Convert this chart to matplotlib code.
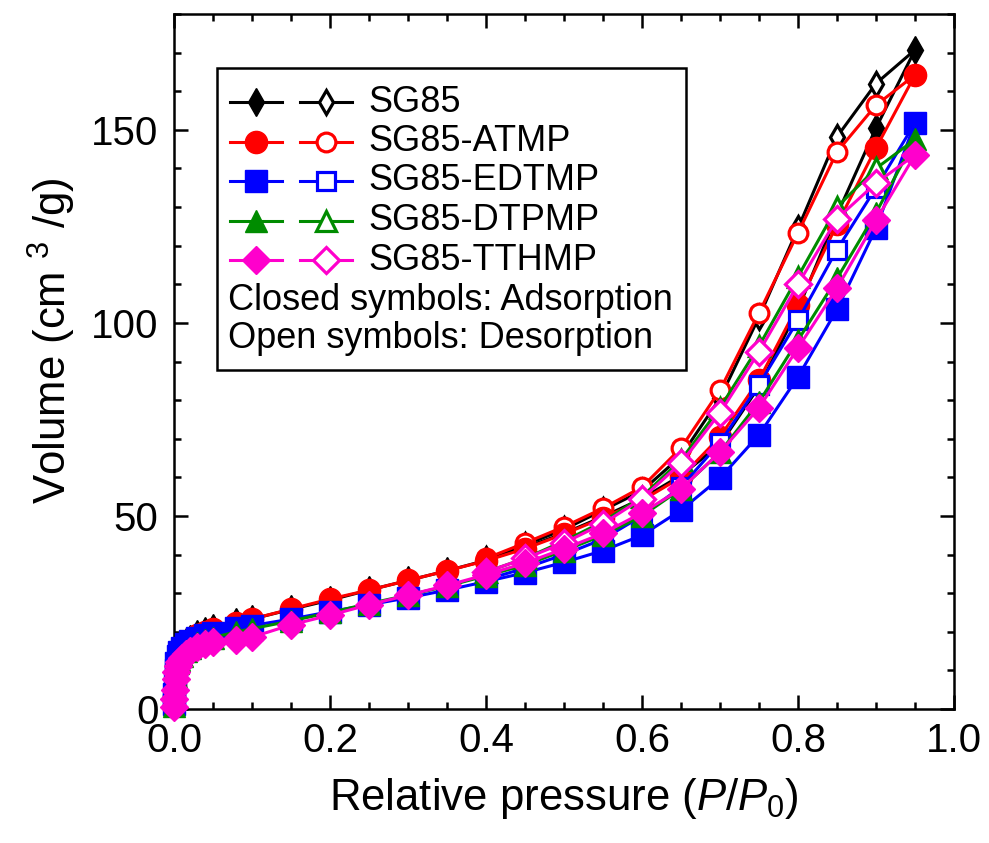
import matplotlib
matplotlib.use("Agg")
import matplotlib.pyplot as plt
from matplotlib.ticker import MultipleLocator
from matplotlib.patches import Rectangle

plt.rcParams['font.family'] = ['Liberation Sans', 'DejaVu Sans']
plt.rcParams['mathtext.fontset'] = 'custom'
plt.rcParams['mathtext.rm'] = 'Liberation Sans'
plt.rcParams['mathtext.it'] = 'Liberation Sans:italic'

# ---------------- data ----------------
samples = ['SG85', 'SG85-ATMP', 'SG85-EDTMP', 'SG85-DTPMP', 'SG85-TTHMP']

p_ads = [0.0002, 0.0005, 0.001, 0.002, 0.003, 0.005, 0.007, 0.01, 0.015, 0.02,
         0.03, 0.04, 0.05, 0.08, 0.10, 0.15, 0.20, 0.25, 0.30, 0.35, 0.40, 0.45,
         0.50, 0.55, 0.60, 0.65, 0.70, 0.75, 0.80, 0.85, 0.90, 0.95]

v_ads_sg85 = [1.0, 3.5, 6.5, 9.5, 11.5, 13.5, 14.8, 16.0, 17.3, 18.2, 19.5, 20.3,
              21.0, 22.5, 23.3, 25.8, 28.2, 30.8, 33.3, 35.8, 38.5, 41.8, 45.5,
              49.8, 54.5, 60.5, 68.5, 83.5, 103.5, 128.0, 150.5, 170.7]
v_ads_atmp = [0.9, 3.3, 6.2, 9.2, 11.2, 13.2, 14.5, 15.7, 17.0, 17.9, 19.2, 20.0,
              20.7, 22.2, 23.3, 25.9, 28.5, 30.8, 33.3, 35.8, 38.4, 41.5, 45.3,
              49.5, 54.0, 60.0, 70.5, 85.2, 104.6, 125.5, 145.3, 164.2]
v_ads_edtmp = [1.2, 4.0, 7.0, 10.0, 12.0, 13.8, 14.8, 15.8, 16.8, 17.5, 18.5, 19.2,
               19.8, 21.0, 21.6, 23.3, 25.2, 27.0, 28.8, 30.8, 33.0, 35.3, 38.0,
               41.0, 45.0, 51.5, 59.8, 71.0, 86.0, 103.5, 124.5, 151.8]
v_ads_dtpmp = [0.8, 3.0, 5.5, 8.3, 10.0, 11.8, 12.8, 13.8, 15.0, 15.8, 17.0, 17.8,
               18.5, 20.0, 20.8, 22.8, 25.0, 27.3, 29.5, 31.8, 34.5, 37.3, 41.0,
               45.0, 50.0, 57.0, 66.5, 79.5, 95.5, 111.5, 128.5, 147.5]
v_ads_tthmp = [0.5, 2.5, 5.0, 7.8, 9.5, 11.2, 12.2, 13.2, 14.3, 15.0, 16.0, 16.8,
               17.3, 17.9, 18.6, 21.8, 24.3, 27.0, 29.5, 32.0, 34.8, 37.8, 41.5,
               45.5, 50.8, 57.0, 66.5, 78.0, 93.5, 109.0, 126.6, 143.5]

p_des = [0.95, 0.90, 0.85, 0.80, 0.75, 0.70, 0.65, 0.60, 0.55, 0.50, 0.45, 0.40]

v_des_sg85 = [170.7, 162.0, 148.2, 124.5, 101.5, 80.5, 65.5, 56.5, 51.5, 46.5, 42.5, 38.8]
v_des_atmp = [164.2, 156.4, 144.3, 123.3, 102.6, 82.6, 67.6, 57.5, 52.0, 47.2, 43.0, 39.0]
v_des_edtmp = [151.8, 135.0, 119.0, 100.7, 84.0, 69.0, 57.5, 50.0, 44.0, 40.0, 36.5, 33.5]
v_des_dtpmp = [147.5, 140.0, 130.0, 112.0, 94.0, 78.0, 64.5, 55.0, 48.5, 43.5, 39.0, 35.5]
v_des_tthmp = [143.5, 136.2, 127.0, 110.0, 92.5, 76.7, 63.7, 54.5, 48.0, 43.0, 39.0, 35.5]

ads = [v_ads_sg85, v_ads_atmp, v_ads_edtmp, v_ads_dtpmp, v_ads_tthmp]
des = [v_des_sg85, v_des_atmp, v_des_edtmp, v_des_dtpmp, v_des_tthmp]

# ---------------- styles ----------------
colors = ['black', '#FF0000', '#0000FF', '#008C00', '#FF00CC']
markers = ['d', 'o', 's', '^', 'D']
ms_closed = [14.0, 16.0, 15.5, 16.0, 14.0]
ms_open = [12.5, 13.5, 13.0, 14.0, 13.0]
LW = 2.2
MEW = 2.3

fig = plt.figure(figsize=(9.89, 8.43), dpi=100)
ax = fig.add_axes([174/989, 1-709/843, 780/989, 695/843])

for i in range(len(samples)):
    c = colors[i]
    ax.plot(p_des, des[i], color=c, lw=LW, marker=markers[i], ms=ms_open[i],
            mfc='white', mec=c, mew=MEW, markevery=slice(1, None),
            clip_on=False, zorder=3)
    ax.plot(p_ads, ads[i], color=c, lw=LW, marker=markers[i], ms=ms_closed[i],
            mfc=c, mec=c, mew=1.0, clip_on=False, zorder=3)

ax.set_xlim(0, 1.0)
ax.set_ylim(0, 180)
ax.xaxis.set_major_locator(MultipleLocator(0.2))
ax.xaxis.set_minor_locator(MultipleLocator(0.05))
ax.yaxis.set_major_locator(MultipleLocator(50))
ax.yaxis.set_minor_locator(MultipleLocator(10))
ax.xaxis.set_major_formatter(plt.FuncFormatter(lambda v, p: f"{v:.1f}"))
ax.yaxis.set_major_formatter(plt.FuncFormatter(lambda v, p: f"{v:.0f}"))

ax.tick_params(which='both', direction='in', top=True, right=True, width=1.8,
               labelsize=29)
ax.tick_params(which='major', length=10)
ax.tick_params(which='minor', length=5)
ax.tick_params(axis='y', which='major', pad=11)
ax.tick_params(axis='x', which='major', pad=9)
for s in ax.spines.values():
    s.set_linewidth(1.8)

ax.set_xlabel(r'Relative pressure ($\mathit{P}$/$\mathit{P}_\mathit{0}$)',
              fontsize=31.5, labelpad=12)
ax.set_ylabel(r'Volume (cm $^{3}$ /g)', fontsize=31.5)
ax.yaxis.set_label_coords(-0.123, 0.53)

# ---------------- legend box (manual) ----------------
def fx(px):
    return (px - 174) / 780.0

def fy(py):
    return (709 - py) / 695.0

ax.add_patch(Rectangle((fx(217), fy(370)), fx(686) - fx(217), fy(68) - fy(370),
                       transform=ax.transAxes, fill=True, facecolor='white',
                       edgecolor='black', lw=1.8, zorder=5, clip_on=False))
row_y = [102, 141.5, 181, 220.5, 260]
for i in range(len(samples)):
    c = colors[i]
    yy = fy(row_y[i])
    ax.plot([fx(230), fx(282)], [yy, yy], color=c, lw=LW, transform=ax.transAxes,
            clip_on=False, zorder=6)
    ax.plot([fx(256)], [yy], marker=markers[i], ms=ms_closed[i], mfc=c, mec=c,
            mew=1.0, transform=ax.transAxes, clip_on=False, zorder=6)
    ax.plot([fx(300), fx(352)], [yy, yy], color=c, lw=LW, transform=ax.transAxes,
            clip_on=False, zorder=6)
    ax.plot([fx(326)], [yy], marker=markers[i], ms=ms_open[i], mfc='white', mec=c,
            mew=MEW, transform=ax.transAxes, clip_on=False, zorder=6)
    ax.text(fx(368), yy, samples[i], transform=ax.transAxes, fontsize=26,
            va='center', ha='left', zorder=7)
ax.text(fx(228), fy(300), 'Closed symbols: Adsorption', transform=ax.transAxes,
        fontsize=26, va='center', ha='left', zorder=7)
ax.text(fx(228), fy(339), 'Open symbols: Desorption', transform=ax.transAxes,
        fontsize=26, va='center', ha='left', zorder=7)

fig.savefig('out.png', dpi=100)
